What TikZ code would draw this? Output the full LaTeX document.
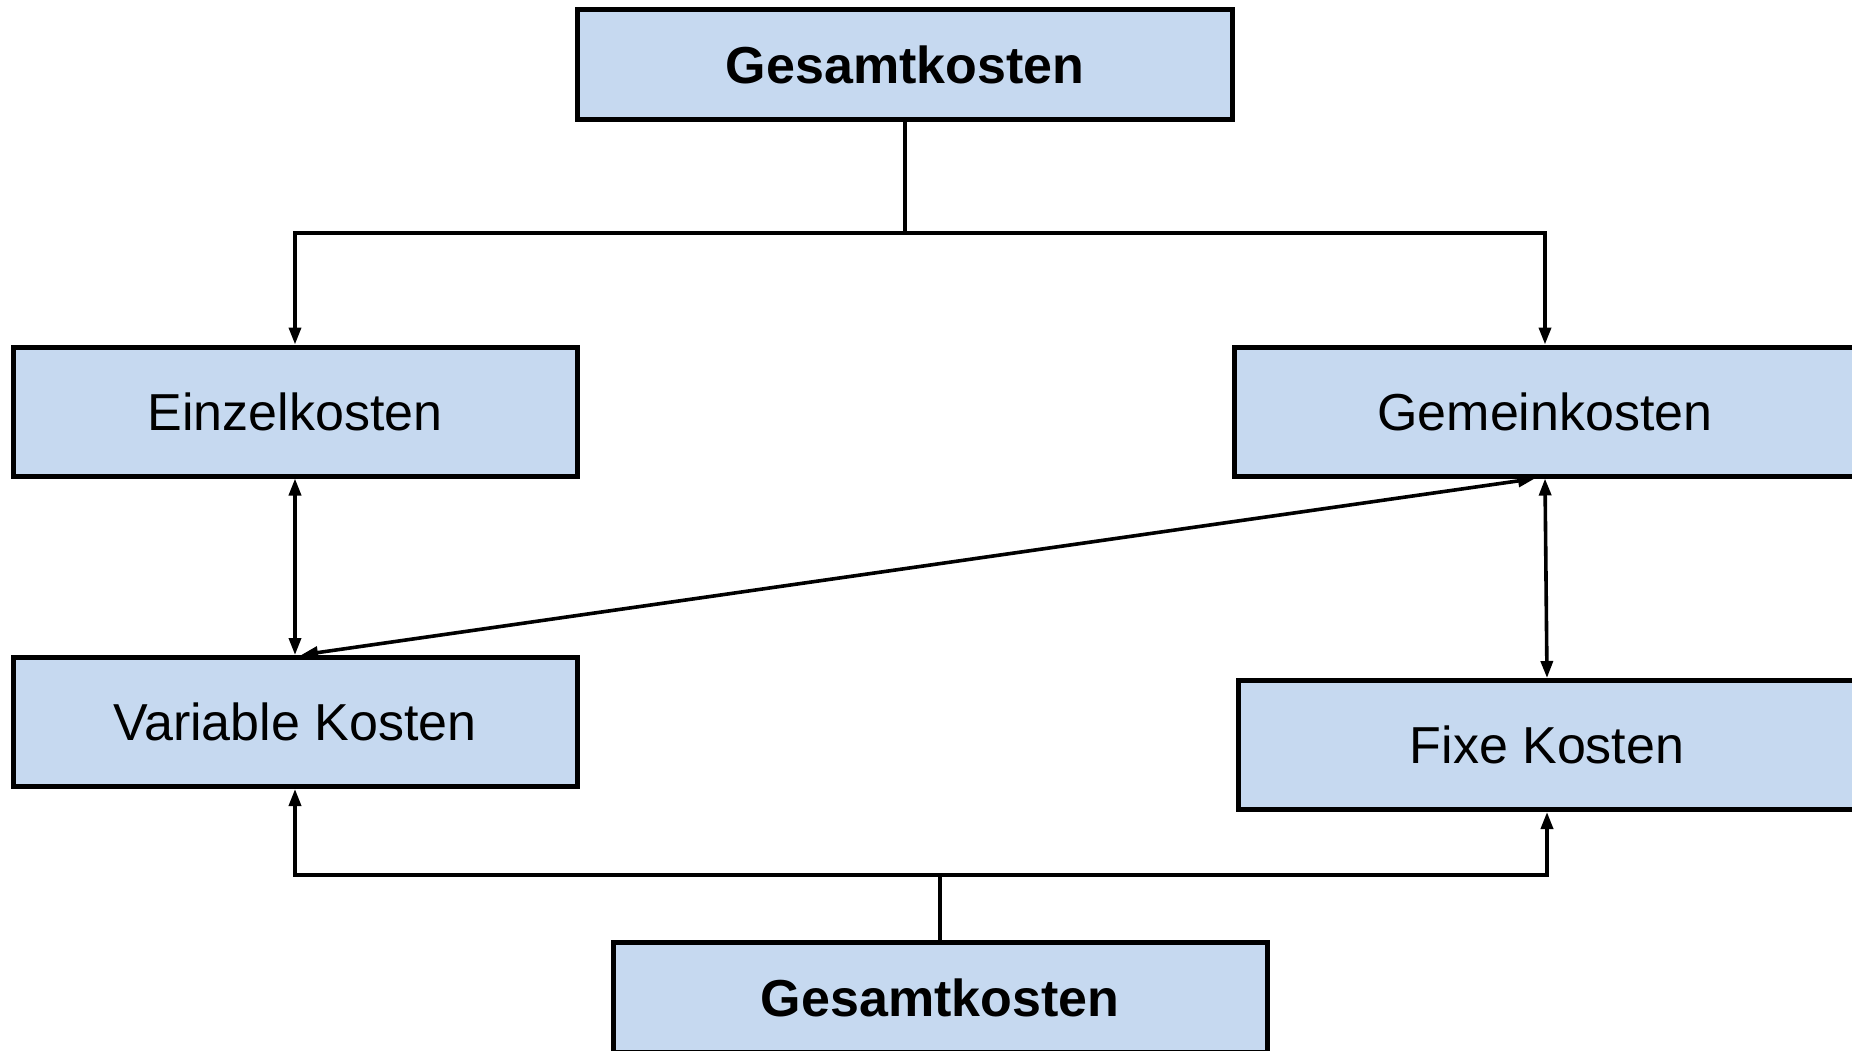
\documentclass[tikz,border=0pt]{standalone}
\usepackage{fontspec}
\setmainfont{Liberation Sans}
\usetikzlibrary{arrows.meta}

\definecolor{boxfill}{HTML}{C6D9F0}

\tikzset{
  costbox/.style={draw=black, fill=boxfill, line width=5pt, rectangle,
    inner sep=0pt, font=\fontsize{52}{62}\selectfont},
  headbox/.style={costbox, font=\fontsize{52}{62}\selectfont\bfseries},
  link/.style={line width=3.6pt, draw=black},
  tip/.style={-{Triangle[length=17pt,width=12pt]}},
  bitip/.style={{Triangle[length=17pt,width=12pt]}-{Triangle[length=17pt,width=12pt]}}
}

\begin{document}
\begin{tikzpicture}[x=1pt, y=-1pt]
  \useasboundingbox (0,0) rectangle (1852,1051);
  \clip (0,0) rectangle (1852,1051);

  % cost boxes
  \node[headbox, minimum width=655pt, minimum height=110pt] (top) at (905,64.5) {Gesamtkosten};
  \node[costbox, minimum width=564pt, minimum height=129pt] (einzel) at (295,411.5) {Einzelkosten};
  \node[costbox, minimum width=622pt, minimum height=129pt] (gemein) at (1545,411.5) {Gemeinkosten};
  \node[costbox, minimum width=564pt, minimum height=129pt] (variable) at (295,722) {Variable Kosten};
  \node[costbox, minimum width=618pt, minimum height=129pt] (fixe) at (1547,745) {Fixe Kosten};
  \node[headbox, minimum width=654pt, minimum height=110pt] (bottom) at (940,997.5) {Gesamtkosten};

  % split of total costs into direct and overhead costs
  \draw[link] (top.south) -- ++(0,111) coordinate (tj);
  \draw[link, tip] (tj) -| (einzel.north);
  \draw[link, tip] (tj) -| (gemein.north);

  % relations between the cost categories
  \draw[link, bitip] (einzel.south) -- (variable.north);
  \draw[link, bitip] (gemein.south) -- (fixe.north);
  \draw[link, bitip] ([xshift=-10pt]gemein.south) -- ([xshift=6pt]variable.north);

  % split of total costs into variable and fixed costs
  \draw[link] (bottom.north) -- ++(0,-65) coordinate (bj);
  \draw[link, tip] (bj) -| (variable.south);
  \draw[link, tip] (bj) -| (fixe.south);
\end{tikzpicture}
\end{document}
